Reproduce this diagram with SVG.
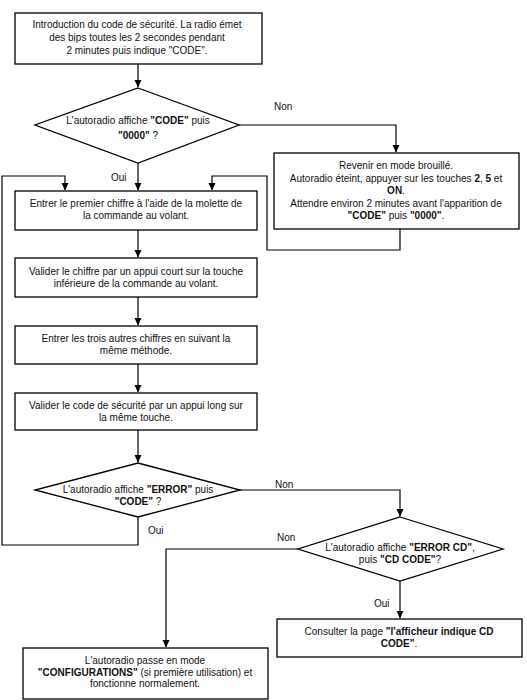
<svg xmlns="http://www.w3.org/2000/svg" width="527" height="700" viewBox="0 0 527 700">
<defs>
<marker id="ah" markerWidth="8" markerHeight="8" refX="7" refY="4" orient="auto" markerUnits="userSpaceOnUse">
<path d="M0,0.5 L7.5,4 L0,7.5 Z" fill="#000"/>
</marker>
<style>
.box{fill:#fff;stroke:#000;stroke-width:1.3}
.ln{fill:none;stroke:#000;stroke-width:1.2}
text{font-family:"Liberation Sans",Arial,sans-serif;font-size:10px;fill:#111;text-anchor:middle}
.b{font-weight:bold}
.lbl{text-anchor:start}
</style>
</defs>
<rect width="527" height="700" fill="#fff"/>
<g id="connectors">
<path class="ln" d="M138,64 V87" marker-end="url(#ah)"/>
<path class="ln" d="M239,125 H396 V152" marker-end="url(#ah)"/>
<path class="ln" d="M138,163 V190" marker-end="url(#ah)"/>
<path class="ln" d="M400,229 V250 H267 V176 H212 V190" marker-end="url(#ah)"/>
<path class="ln" d="M138,517 V545 H2 V176 H65 V190" marker-end="url(#ah)"/>
<path class="ln" d="M138,230 V257" marker-end="url(#ah)"/>
<path class="ln" d="M138,297 V325" marker-end="url(#ah)"/>
<path class="ln" d="M138,364 V392" marker-end="url(#ah)"/>
<path class="ln" d="M138,430 V462" marker-end="url(#ah)"/>
<path class="ln" d="M240,490 H400 V516" marker-end="url(#ah)"/>
<path class="ln" d="M298,549 H166 V647" marker-end="url(#ah)"/>
<path class="ln" d="M400,581 V618" marker-end="url(#ah)"/>
<text class="lbl" x="274" y="110">Non</text>
<text class="lbl" x="111" y="181">Oui</text>
<text class="lbl" x="148" y="534">Oui</text>
<text class="lbl" x="275" y="488">Non</text>
<text class="lbl" x="277" y="541">Non</text>
<text class="lbl" x="374" y="607">Oui</text>
</g>
<g id="n1">
<rect class="box" x="15" y="13" width="247" height="51"/>
<text x="137" y="28">Introduction du code de sécurité. La radio émet</text>
<text x="137" y="41">des bips toutes les 2 secondes pendant</text>
<text x="137" y="54">2 minutes puis indique "CODE".</text>
</g>
<g id="d1">
<polygon class="box" points="138,88 239,125 138,163 35,125"/>
<text x="138" y="124">L'autoradio affiche <tspan class="b">"CODE"</tspan> puis</text>
<text x="138" y="139"><tspan class="b">"0000"</tspan> ?</text>
</g>
<g id="n2">
<rect class="box" x="274" y="153" width="245" height="76"/>
<text x="396" y="169">Revenir en mode brouillé.</text>
<text x="396" y="182">Autoradio éteint, appuyer sur les touches <tspan class="b">2</tspan>, <tspan class="b">5</tspan> et</text>
<text x="396" y="194"><tspan class="b">ON</tspan>.</text>
<text x="396" y="207">Attendre environ 2 minutes avant l'apparition de</text>
<text x="396" y="219"><tspan class="b">"CODE"</tspan> puis <tspan class="b">"0000"</tspan>.</text>
</g>
<g id="n3">
<rect class="box" x="15" y="191" width="242" height="39"/>
<text x="136" y="207">Entrer le premier chiffre à l'aide de la molette de</text>
<text x="136" y="219">la commande au volant.</text>
</g>
<g id="n4">
<rect class="box" x="15" y="258" width="242" height="39"/>
<text x="136" y="275">Valider le chiffre par un appui court sur la touche</text>
<text x="136" y="287">inférieure de la commande au volant.</text>
</g>
<g id="n5">
<rect class="box" x="15" y="326" width="242" height="38"/>
<text x="136" y="342">Entrer les trois autres chiffres en suivant la</text>
<text x="136" y="354">même méthode.</text>
</g>
<g id="n6">
<rect class="box" x="15" y="393" width="242" height="37"/>
<text x="136" y="409">Valider le code de sécurité par un appui long sur</text>
<text x="136" y="421">la même touche.</text>
</g>
<g id="d2">
<polygon class="box" points="138,463 240,490 138,517 35,490"/>
<text x="138" y="493">L'autoradio affiche <tspan class="b">"ERROR"</tspan> puis</text>
<text x="138" y="505"><tspan class="b">"CODE"</tspan> ?</text>
</g>
<g id="d3">
<polygon class="box" points="400,517 503,549 400,581 298,549"/>
<text x="400" y="551">L'autoradio affiche <tspan class="b">"ERROR CD"</tspan>,</text>
<text x="400" y="563">puis <tspan class="b">"CD CODE"</tspan>?</text>
</g>
<g id="n8">
<rect class="box" x="277" y="619" width="245" height="38"/>
<text x="399" y="635">Consulter la page <tspan class="b">"l'afficheur indique CD</tspan></text>
<text x="399" y="647"><tspan class="b">CODE"</tspan>.</text>
</g>
<g id="n7">
<rect class="box" x="23" y="648" width="245" height="51"/>
<text x="145" y="664">L'autoradio passe en mode</text>
<text x="145" y="676"><tspan class="b">"CONFIGURATIONS"</tspan> (si première utilisation) et</text>
<text x="145" y="687">fonctionne normalement.</text>
</g>
</svg>
